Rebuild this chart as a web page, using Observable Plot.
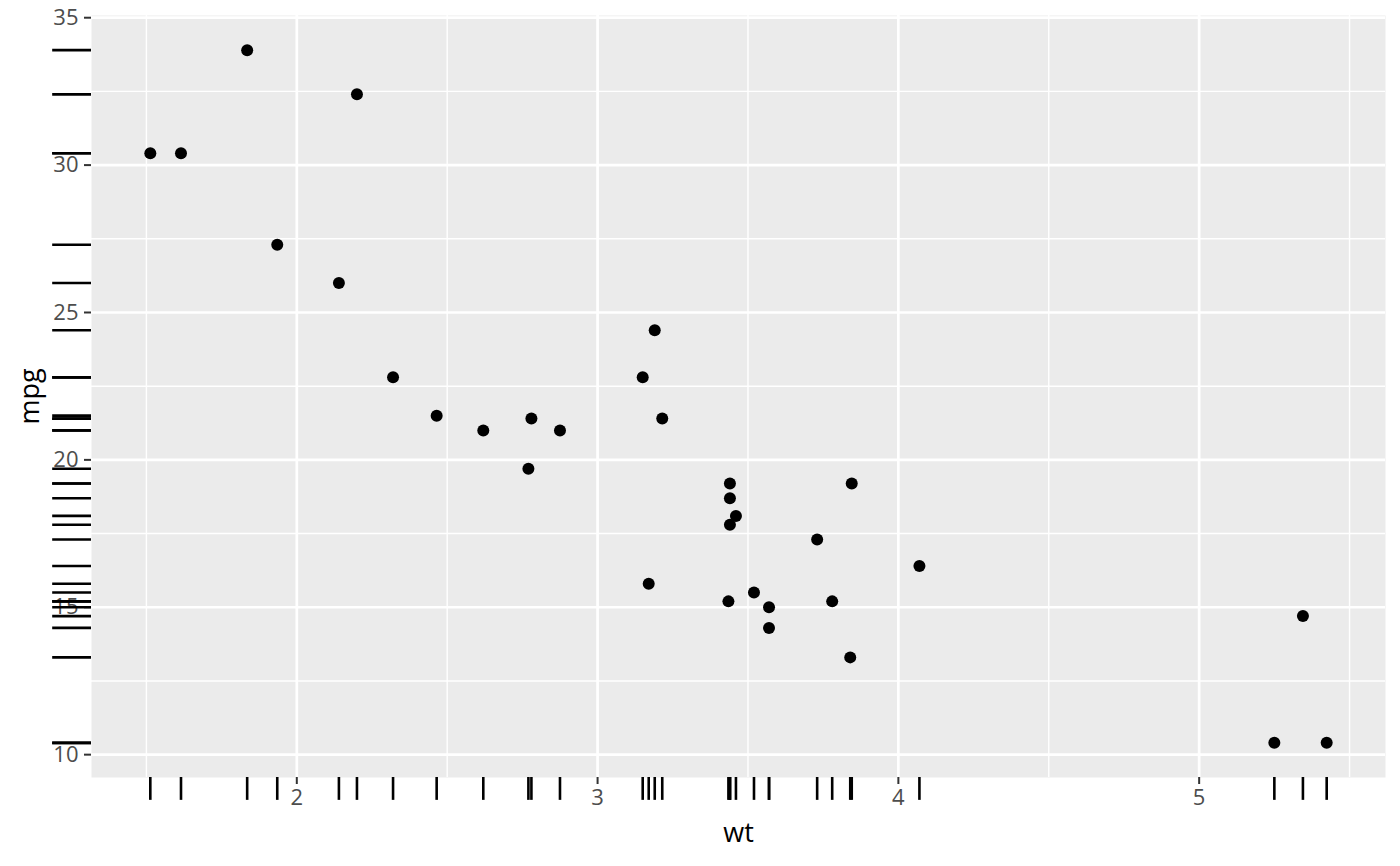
<!DOCTYPE html>
<html>
<head>
<meta charset="utf-8">
<script src="https://cdn.jsdelivr.net/npm/d3@7"></script>
<script src="https://cdn.jsdelivr.net/npm/@observablehq/plot@0.6"></script>
<style>
  html, body { margin: 0; padding: 0; background: #ffffff; }
  #chart { width: 1400px; height: 866px; }
  svg { font-family: "Open Sans", sans-serif; }
</style>
</head>
<body>
<div id="chart"></div>
<script>
// mtcars: weight (1000 lbs) and miles per gallon
const wt = [2.620, 2.875, 2.320, 3.215, 3.440, 3.460, 3.570, 3.190, 3.150, 3.440, 3.440,
            4.070, 3.730, 3.780, 5.250, 5.424, 5.345, 2.200, 1.615, 1.835, 2.465, 3.520,
            3.435, 3.840, 3.845, 1.935, 2.140, 1.513, 3.170, 2.770, 3.570, 2.780];
const mpg = [21.0, 21.0, 22.8, 21.4, 18.7, 18.1, 14.3, 24.4, 22.8, 19.2, 17.8,
             16.4, 17.3, 15.2, 10.4, 10.4, 14.7, 32.4, 30.4, 33.9, 21.5, 15.5,
             15.2, 13.3, 19.2, 27.3, 26.0, 30.4, 15.8, 19.7, 15.0, 21.4];

const xMajor = [2, 3, 4, 5];
const xMinor = [1.5, 2.5, 3.5, 4.5, 5.5];
const yMajor = [10, 15, 20, 25, 30, 35];
const yMinor = [12.5, 17.5, 22.5, 27.5, 32.5];

const cars = wt.map((w, i) => ({wt: w, mpg: mpg[i]}));

function expand(vals) {
  const [a, b] = d3.extent(vals);
  const e = (b - a) * 0.05;
  return [a - e, b + e];
}

const W = 1400, H = 866;
const mL = 91, mR = 15, mT = 15, mB = 89;
const innerW = W - mL - mR, innerH = H - mT - mB;
const rugX = 0.03 * innerH;  // rug length for x rug
const rugY = 0.03 * innerW;  // rug length for y rug

const chart = Plot.plot({
  width: W,
  height: H,
  marginLeft: mL,
  marginRight: mR,
  marginTop: mT,
  marginBottom: mB,
  style: {fontFamily: "Open Sans, sans-serif", background: "#ffffff"},
  x: {domain: expand(wt)},
  y: {domain: expand(mpg)},
  marks: [
    Plot.frame({fill: "#EBEBEB", stroke: null}),
    Plot.ruleX(xMinor, {stroke: "#ffffff", strokeWidth: 1.4}),
    Plot.ruleY(yMinor, {stroke: "#ffffff", strokeWidth: 1.4}),
    Plot.ruleX(xMajor, {stroke: "#ffffff", strokeWidth: 2.7}),
    Plot.ruleY(yMajor, {stroke: "#ffffff", strokeWidth: 2.7}),
    Plot.axisX(xMajor, {
      tickSize: 7, tickPadding: 5, fontSize: 22, stroke: "#333333", fill: "#4d4d4d",
      strokeWidth: 2, label: null, tickFormat: d3.format("d")
    }),
    Plot.axisY(yMajor, {
      tickSize: 7, tickPadding: 6, fontSize: 22, stroke: "#333333", fill: "#4d4d4d",
      strokeWidth: 2, label: null, tickFormat: d3.format("d")
    }),
    // rugs drawn outside the panel
    Plot.ruleX(cars, {x: "wt", insetTop: innerH - rugX, dy: rugX, stroke: "black", strokeWidth: 2.6}),
    Plot.ruleY(cars, {y: "mpg", insetRight: innerW - rugY, dx: -rugY, stroke: "black", strokeWidth: 2.6}),
    Plot.dot(cars, {x: "wt", y: "mpg", r: 6, fill: "black", stroke: null}),
    Plot.text(["wt"], {frameAnchor: "bottom", dy: 56, fontSize: 27, fill: "black", lineAnchor: "middle", textAnchor: "middle"}),
    Plot.text(["mpg"], {frameAnchor: "left", dx: -61, rotate: -90, fontSize: 27, fill: "black", lineAnchor: "middle", textAnchor: "middle"})
  ]
});

document.getElementById("chart").appendChild(chart);
</script>
</body>
</html>
